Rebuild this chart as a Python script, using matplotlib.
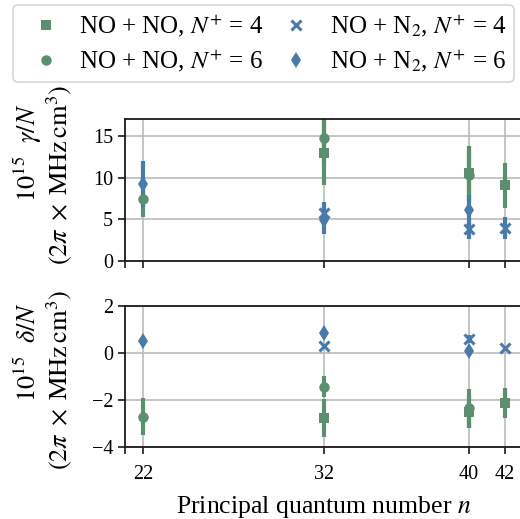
import matplotlib
matplotlib.use("Agg")
import matplotlib.pyplot as plt
import numpy as np

plt.rcParams['font.family'] = ['Liberation Serif', 'DejaVu Serif']
plt.rcParams['mathtext.fontset'] = 'stix'

GREEN = '#5b8f70'
BLUE = '#4a7aa8'

# gamma / N  (top panel)
n_nono4 = [32, 40, 42]
g_nono4 = [13.0, 10.6, 9.1]
ge_nono4 = [3.85, 3.3, 2.7]

n_nono6 = [22, 32, 40]
g_nono6 = [7.5, 14.85, 10.3]
ge_nono6 = [2.25, 3.0, 3.2]

n_non24 = [32, 40, 42]
g_non24 = [5.75, 3.9, 4.0]
ge_non24 = [1.4, 1.2, 1.3]

n_non26 = [22, 32, 40]
g_non26 = [9.25, 4.9, 6.1]
ge_non26 = [2.8, 1.6, 1.9]

# delta / N (bottom panel)
d_nono4 = [-2.77, -2.5, -2.12]
de_nono4 = [0.8, 0.7, 0.65]
d_nono6 = [-2.7, -1.43, -2.35]
de_nono6 = [0.8, 0.45, 0.8]
d_non24 = [0.28, 0.59, 0.21]
de_non24 = [0.05, 0.15, 0.05]
d_non26 = [0.52, 0.83, 0.06]
de_non26 = [0.1, 0.15, 0.1]

xticks = [22, 32, 40, 42]

series = [
    (n_nono4, g_nono4, ge_nono4, d_nono4, de_nono4, 's', GREEN, 7.5, 'NO + NO, $N^{+}$ = 4'),
    (n_nono6, g_nono6, ge_nono6, d_nono6, de_nono6, 'o', GREEN, 7.5, 'NO + NO, $N^{+}$ = 6'),
    (n_non24, g_non24, ge_non24, d_non24, de_non24, 'x', BLUE, 6.5, 'NO + N$_2$, $N^{+}$ = 4'),
    (n_non26, g_non26, ge_non26, d_non26, de_non26, 'd', BLUE, 8, 'NO + N$_2$, $N^{+}$ = 6'),
]

fig = plt.figure(figsize=(5.2, 5.19), dpi=100)
ax1 = fig.add_axes([0.2404, 0.4971, 0.7654, 0.2736])
ax2 = fig.add_axes([0.2404, 0.1382, 0.7654, 0.2728])

handles = []
for ax, idx in ((ax1, (1, 2)), (ax2, (3, 4))):
    for s in series:
        n, yv, ye = s[0], s[idx[0]], s[idx[1]]
        ax.errorbar(n, yv, yerr=ye, fmt='none', ecolor=s[6], elinewidth=3.0,
                    capsize=0, zorder=2)
    for s in series:
        n, yv = s[0], s[idx[0]]
        if s[5] == 'x':
            h, = ax.plot(n, yv, ls='none', marker='x', color=s[6], ms=s[7],
                         mew=2.2, zorder=3, label=s[8])
        else:
            h, = ax.plot(n, yv, ls='none', marker=s[5], color=s[6], ms=s[7],
                         mew=0, zorder=3, label=s[8])
        if ax is ax1:
            handles.append(h)

for ax in (ax1, ax2):
    ax.set_xlim(21, 43)
    ax.set_xticks(xticks)
    ax.set_xticks([21], minor=True)
    ax.grid(True, color='#bbbbbb', lw=1.2, zorder=0)
    ax.set_axisbelow(True)
    ax.spines['right'].set_visible(False)
    for sp in ('left', 'top', 'bottom'):
        ax.spines[sp].set_linewidth(1.3)
        ax.spines[sp].set_color('#1a1a1a')
    ax.tick_params(axis='both', which='both', direction='out', length=5,
                   width=1.2, labelsize=14.5, color='#1a1a1a')
    ax.tick_params(axis='x', pad=8)

ax1.set_ylim(0, 17.1)
ax1.set_yticks([0, 5, 10, 15])
ax1.tick_params(axis='x', labelbottom=False)
ax2.set_ylim(-4, 2)
ax2.set_yticks([-4, -2, 0, 2])
ax2.set_xticklabels([str(t) for t in xticks])

# two-line y labels (placed as figure text)
lab_fs = 19
fig.text(0.054, 0.705, '$10^{15}\\ \\ \\gamma/N$', rotation=90, ha='center',
         va='center', fontsize=lab_fs)
fig.text(0.113, 0.663, '$(2\\pi\\;\\times\\;\\mathrm{MHz\\,cm^3})$', rotation=90,
         ha='center', va='center', fontsize=lab_fs)
fig.text(0.054, 0.322, '$10^{15}\\ \\ \\delta/N$', rotation=90, ha='center',
         va='center', fontsize=lab_fs)
fig.text(0.113, 0.268, '$(2\\pi\\;\\times\\;\\mathrm{MHz\\,cm^3})$', rotation=90,
         ha='center', va='center', fontsize=lab_fs)

ax2.set_xlabel('Principal quantum number $n$', fontsize=18.5, labelpad=7)

leg = fig.legend(handles=handles, loc='upper left', bbox_to_anchor=(0.025, 0.99),
                 borderaxespad=0, ncol=2, fontsize=18, frameon=True, fancybox=True,
                 edgecolor='#cccccc', handlelength=2.0, handletextpad=0.35,
                 columnspacing=0.3, borderpad=0.3, labelspacing=0.35)
leg.get_frame().set_linewidth(1.2)

fig.savefig('out.png', dpi=100)
